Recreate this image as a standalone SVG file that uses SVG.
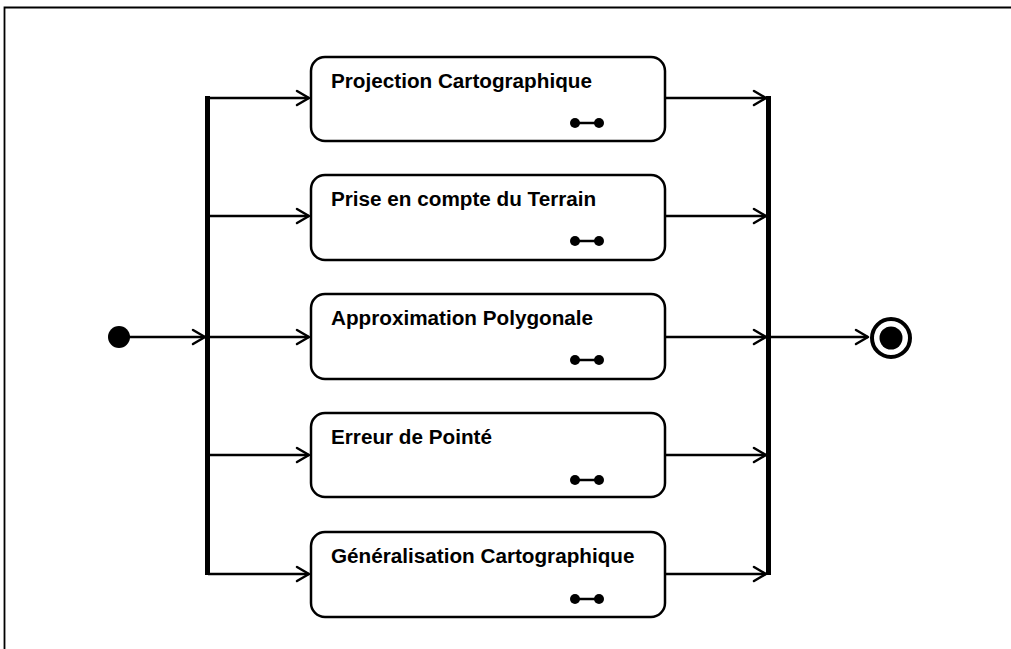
<svg xmlns="http://www.w3.org/2000/svg" width="1011" height="649" viewBox="0 0 1011 649">
<style>
.box{fill:#fff;stroke:#000;stroke-width:2.5}
.lbl{font-family:"Liberation Sans",Arial,sans-serif;font-weight:bold;font-size:20.7px;fill:#000}
.ln{stroke:#000;stroke-width:2.5;fill:none}
.ah{stroke:#000;stroke-width:2.5;fill:none;stroke-linecap:round;stroke-linejoin:round}
.bar{fill:#000}
</style>
<defs>
<g id="icon"><circle cx="0" cy="0" r="5" fill="#000"/><circle cx="24" cy="0" r="5" fill="#000"/><line x1="0" y1="0" x2="24" y2="0" stroke="#000" stroke-width="2.5"/></g>
</defs>
<rect width="1011" height="649" fill="#fff"/>
<path d="M4.5 649 V7.5 H1011" stroke="#000" stroke-width="1.8" fill="none"/>
<g id="connectors">
<line class="ln" x1="129" y1="337" x2="205" y2="337"/>
<path class="ah" d="M193 330 L205 337 L193 344"/>
<line class="ln" x1="208" y1="98" x2="309" y2="98"/><path class="ah" d="M297 91 L309 98 L297 105"/>
<line class="ln" x1="208" y1="216" x2="309" y2="216"/><path class="ah" d="M297 209 L309 216 L297 223"/>
<line class="ln" x1="208" y1="337" x2="309" y2="337"/><path class="ah" d="M297 330 L309 337 L297 344"/>
<line class="ln" x1="208" y1="455" x2="309" y2="455"/><path class="ah" d="M297 448 L309 455 L297 462"/>
<line class="ln" x1="208" y1="574" x2="309" y2="574"/><path class="ah" d="M297 567 L309 574 L297 581"/>
<line class="ln" x1="666" y1="98" x2="766" y2="98"/><path class="ah" d="M754 91 L766 98 L754 105"/>
<line class="ln" x1="666" y1="216" x2="766" y2="216"/><path class="ah" d="M754 209 L766 216 L754 223"/>
<line class="ln" x1="666" y1="337" x2="766" y2="337"/><path class="ah" d="M754 330 L766 337 L754 344"/>
<line class="ln" x1="666" y1="455" x2="766" y2="455"/><path class="ah" d="M754 448 L766 455 L754 462"/>
<line class="ln" x1="666" y1="574" x2="766" y2="574"/><path class="ah" d="M754 567 L766 574 L754 581"/>
<line class="ln" x1="769" y1="337" x2="868" y2="337"/><path class="ah" d="M856 330 L868 337 L856 344"/>
</g>
<g id="initial"><circle cx="119" cy="337" r="11" fill="#000"/></g>
<g id="fork"><rect class="bar" x="205" y="96" width="5" height="479"/></g>
<g id="join"><rect class="bar" x="766" y="96" width="5" height="479"/></g>
<g id="final"><circle cx="891" cy="338" r="19" fill="#fff" stroke="#000" stroke-width="4"/><circle cx="891" cy="338" r="11.5" fill="#000"/></g>
<g id="n1"><rect class="box" x="311" y="57" width="354" height="84" rx="14"/><text class="lbl" x="331" y="88">Projection Cartographique</text><use href="#icon" x="575" y="123"/></g>
<g id="n2"><rect class="box" x="311" y="175" width="354" height="85" rx="14"/><text class="lbl" x="331" y="206">Prise en compte du Terrain</text><use href="#icon" x="575" y="241"/></g>
<g id="n3"><rect class="box" x="311" y="294" width="354" height="85" rx="14"/><text class="lbl" x="331" y="325">Approximation Polygonale</text><use href="#icon" x="575" y="360"/></g>
<g id="n4"><rect class="box" x="311" y="413" width="354" height="84" rx="14"/><text class="lbl" x="331" y="444">Erreur de Pointé</text><use href="#icon" x="575" y="480"/></g>
<g id="n5"><rect class="box" x="311" y="532" width="354" height="85" rx="14"/><text class="lbl" x="331" y="563">Généralisation Cartographique</text><use href="#icon" x="575" y="599"/></g>
</svg>
